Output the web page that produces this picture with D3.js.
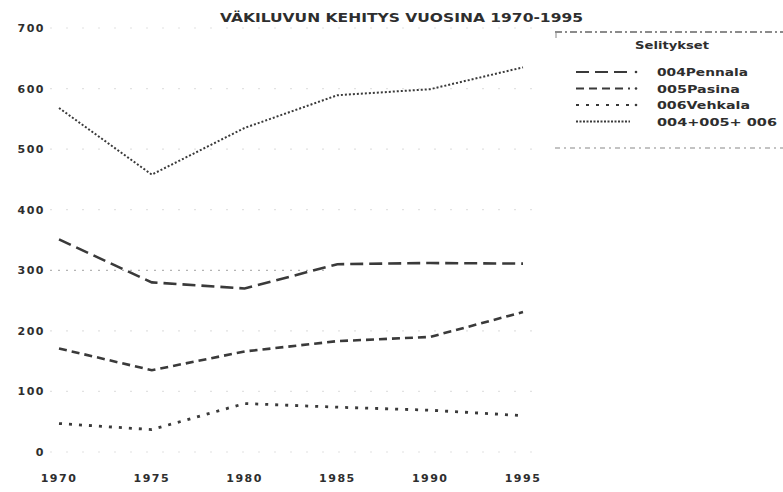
<!DOCTYPE html>
<html>
<head>
<meta charset="utf-8">
<title>Väkiluvun kehitys vuosina 1970-1995</title>
<script src="https://d3js.org/d3.v7.min.js"></script>
<style>
  body { margin: 0; background: #fff; }
  text { font-family: "DejaVu Sans", "Liberation Sans", sans-serif; font-weight: bold; fill: #2e2e2e; }
</style>
</head>
<body>
<div id="chart"></div>
<script>
// data
var years = [1970, 1975, 1980, 1985, 1990, 1995];
var pennala = [351, 280, 270, 310, 312, 311];
var pasina = [171, 135, 166, 183, 190, 231];
var vehkala = [47, 37, 80, 74, 69, 60];
var total = [568, 458, 535, 589, 599, 635];
var yTicks = [0, 100, 200, 300, 400, 500, 600, 700];

var seriesNames = ["004Pennala", "005Pasina", "006Vehkala", "004+005+ 006"];
var seriesValues = [pennala, pasina, vehkala, total];
var seriesDash = ["13,6", "8,5", "3,7", "2,2"];
var seriesWidth = [2.6, 2.6, 2.8, 2];
var legendLen = [91, 83, 93, 120];

var width = 783, height = 492;

var svg = d3.select("#chart")
  .append("svg")
    .attr("width", width)
    .attr("height", height);

var x = d3.scaleLinear().domain([1970, 1995]).range([59, 523]);
var y = d3.scaleLinear().domain([0, 700]).range([452, 28]);

// faint gridline remains from the scan (the 300 one shows most)
svg.selectAll(".grid")
  .data(yTicks)
  .enter()
  .append("line")
    .attr("x1", 50)
    .attr("x2", function(d) { return d == 300 ? 330 : 545; })
    .attr("y1", function(d) { return y(d); })
    .attr("y2", function(d) { return y(d); })
    .attr("stroke", function(d) { return d == 300 ? "#b4b4b4" : "#e2e2e2"; })
    .attr("stroke-width", 1.2)
    .attr("stroke-dasharray", function(d) { return d == 300 ? "2,6" : "2,14"; });

// y labels
svg.selectAll(".ylab")
  .data(yTicks)
  .enter()
  .append("text")
    .attr("x", 45)
    .attr("y", function(d) { return y(d); })
    .attr("dy", "0.36em")
    .attr("text-anchor", "end")
    .style("font-size", "11px")
    .style("letter-spacing", "1.5px")
    .text(function(d) { return d; });

// x labels
svg.selectAll(".xlab")
  .data(years)
  .enter()
  .append("text")
    .attr("x", function(d) { return x(d); })
    .attr("y", 482)
    .attr("text-anchor", "middle")
    .style("font-size", "11px")
    .style("letter-spacing", "1.5px")
    .text(function(d) { return d; });

// title
svg.append("text")
  .attr("x", 220)
  .attr("y", 22)
  .attr("textLength", 363)
  .attr("lengthAdjust", "spacingAndGlyphs")
  .style("font-size", "12px")
  .text("VÄKILUVUN KEHITYS VUOSINA 1970-1995");

// lines
var line = d3.line()
  .x(function(d, i) { return x(years[i]); })
  .y(function(d) { return y(d); });

svg.selectAll(".series")
  .data(seriesValues)
  .enter()
  .append("path")
    .attr("d", line)
    .attr("fill", "none")
    .attr("stroke", "#3a3a3a")
    .attr("stroke-width", function(d, i) { return seriesWidth[i]; })
    .attr("stroke-dasharray", function(d, i) { return seriesDash[i]; });

// legend
svg.append("line")
  .attr("x1", 555).attr("x2", 783).attr("y1", 32).attr("y2", 32)
  .attr("stroke", "#666").attr("stroke-width", 1.3).attr("stroke-dasharray", "7,3,2,3");
svg.append("line")
  .attr("x1", 556).attr("x2", 556).attr("y1", 32).attr("y2", 38)
  .attr("stroke", "#888").attr("stroke-width", 1);
svg.append("line")
  .attr("x1", 555).attr("x2", 783).attr("y1", 148).attr("y2", 148)
  .attr("stroke", "#888").attr("stroke-width", 1.2).attr("stroke-dasharray", "5,4,2,4");

svg.append("text")
  .attr("x", 635)
  .attr("y", 49)
  .attr("textLength", 74)
  .attr("lengthAdjust", "spacingAndGlyphs")
  .style("font-size", "11px")
  .text("Selitykset");

var leg = svg.selectAll(".leg")
  .data(seriesNames)
  .enter()
  .append("g")
    .attr("transform", function(d, i) { return "translate(0," + (72 + i * 16.5) + ")"; });

leg.append("line")
  .attr("x1", 576).attr("x2", 630).attr("y1", 0).attr("y2", 0)
  .attr("stroke", "#3a3a3a")
  .attr("stroke-width", function(d, i) { return i == 3 ? 1.8 : 2.2; })
  .attr("stroke-dasharray", function(d, i) { return i == 3 ? "2,1.5" : seriesDash[i]; });

leg.filter(function(d, i) { return i < 3; })
  .append("circle")
    .attr("cx", 636).attr("cy", 0).attr("r", 1.3)
    .attr("fill", "#3a3a3a");

leg.append("text")
  .attr("x", 657)
  .attr("y", 4)
  .attr("textLength", function(d, i) { return legendLen[i]; })
  .attr("lengthAdjust", "spacingAndGlyphs")
  .style("font-size", "11px")
  .text(function(d) { return d; });
</script>
</body>
</html>
